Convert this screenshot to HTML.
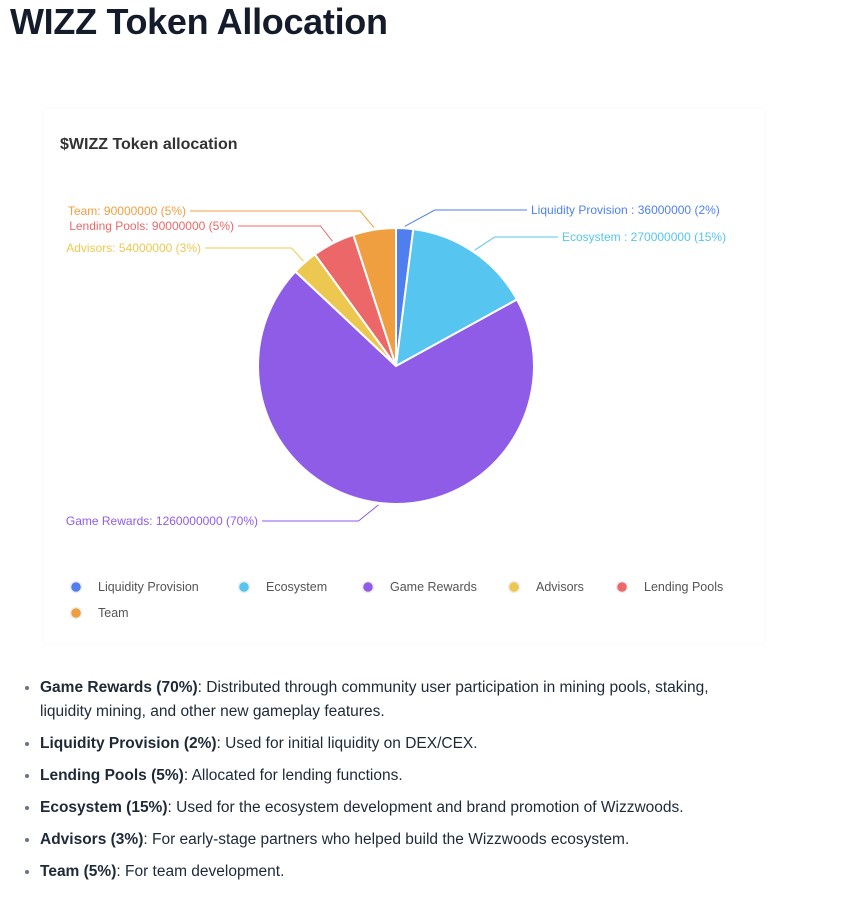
<!DOCTYPE html>
<html><head><meta charset="utf-8"><style>
body{margin:0;background:#fff;font-family:"Liberation Sans",sans-serif;color:#1a2233;width:852px;height:906px;overflow:hidden;position:relative}
h1{position:absolute;left:10px;top:0;margin:0;font-size:36px;font-weight:700;color:#141c2c;letter-spacing:-0.3px;line-height:44px}
#card{position:absolute;left:44px;top:108px;width:720px;height:535px;background:#fff;box-shadow:0 0 2px rgba(0,0,0,0.04)}
ul{position:absolute;left:20px;top:676px;margin:0;padding-left:20px;font-size:15.5px;line-height:24px;color:#1f2937;list-style:disc}
li{margin-bottom:8px;width:700px}
li::marker{color:#6b7280}
</style></head><body>
<h1>WIZZ Token Allocation</h1>
<div id="card"></div>
<svg id="chart" width="852" height="906" style="position:absolute;left:0;top:0">
<text x="60" y="149" font-size="16" font-weight="bold" fill="#333" font-family="Liberation Sans">$WIZZ Token allocation</text>
</svg>
<ul>
<li><b>Game Rewards (70%)</b>: Distributed through community user participation in mining pools, staking, liquidity mining, and other new gameplay features.</li>
<li><b>Liquidity Provision (2%)</b>: Used for initial liquidity on DEX/CEX.</li>
<li><b>Lending Pools (5%)</b>: Allocated for lending functions.</li>
<li><b>Ecosystem (15%)</b>: Used for the ecosystem development and brand promotion of Wizzwoods.</li>
<li><b>Advisors (3%)</b>: For early-stage partners who helped build the Wizzwoods ecosystem.</li>
<li><b>Team (5%)</b>: For team development.</li>
</ul>
<script>
const categories=["Liquidity Provision","Ecosystem","Game Rewards","Advisors","Lending Pools","Team"];
const values=[36000000,270000000,1260000000,54000000,90000000,90000000];
const percents=["2%","15%","70%","3%","5%","5%"];
const colors=["#4f7fef","#56c5ef","#8f5ce8","#edc850","#ec6868","#f09f40"];
const NS="http://www.w3.org/2000/svg";
const svg=document.getElementById('chart');
const cx=396,cy=366,R=138;
const total=values.reduce((a,b)=>a+b,0);
function pt(a,r){return [cx+r*Math.sin(a),cy-r*Math.cos(a)];}
const lay=[[210,1,531,30],[237,1,562,20],[521,-1,258,-20],[248,-1,201,-12],[226,-1,234,-12],[211,-1,186,-14]];
let acc=0;
values.forEach((v,i)=>{
 const a0=acc/total*2*Math.PI;acc+=v;const a1=acc/total*2*Math.PI;
 const p0=pt(a0,R),p1=pt(a1,R);const large=(a1-a0)>Math.PI?1:0;
 const p=document.createElementNS(NS,'path');
 p.setAttribute('d',`M${cx},${cy}L${p0[0]},${p0[1]}A${R},${R} 0 ${large} 1 ${p1[0]},${p1[1]}Z`);
 p.setAttribute('fill',colors[i]);p.setAttribute('stroke','#fff');p.setAttribute('stroke-width','2');
 
 
 svg.appendChild(p);
 const m=(a0+a1)/2;const s=pt(m,R+2);
 const [ly,side,tx,dx]=lay[i];
 const ex=s[0]+dx;
 const endX=side>0?tx-4:tx+4;
 const l=document.createElementNS(NS,'polyline');
 l.setAttribute('points',`${s[0]},${s[1]} ${ex},${ly} ${endX},${ly}`);
 l.setAttribute('fill','none');l.setAttribute('stroke',colors[i]);l.setAttribute('stroke-width','1');
 
 
 svg.appendChild(l);
 const t=document.createElementNS(NS,'text');
 t.setAttribute('x',tx);t.setAttribute('y',ly+4);t.setAttribute('font-size','12');
 t.setAttribute('fill',colors[i]);t.setAttribute('font-family','Liberation Sans');
 t.setAttribute('text-anchor',side>0?'start':'end');
 const sep=i<2?' : ':': ';
 t.textContent=categories[i]+sep+values[i]+' ('+percents[i]+')';
 
 
 svg.appendChild(t);
});
const lx=[76,244,368,514,622,76],lyy=[587,587,587,587,587,613];
categories.forEach((c,i)=>{
 const g=document.createElementNS(NS,'g');
 
 
 const ci=document.createElementNS(NS,'circle');
 ci.setAttribute('cx',lx[i]);ci.setAttribute('cy',lyy[i]);ci.setAttribute('r',5.5);ci.setAttribute('fill',colors[i]);
 ci.setAttribute('stroke','#eee');ci.setAttribute('stroke-width','1.5');
 g.appendChild(ci);
 const t=document.createElementNS(NS,'text');
 t.setAttribute('x',lx[i]+22);t.setAttribute('y',lyy[i]+4);t.setAttribute('font-size','12.5');
 t.setAttribute('fill','#555');t.setAttribute('font-family','Liberation Sans');t.textContent=c;
 g.appendChild(t);svg.appendChild(g);
});
</script>
</body></html>
